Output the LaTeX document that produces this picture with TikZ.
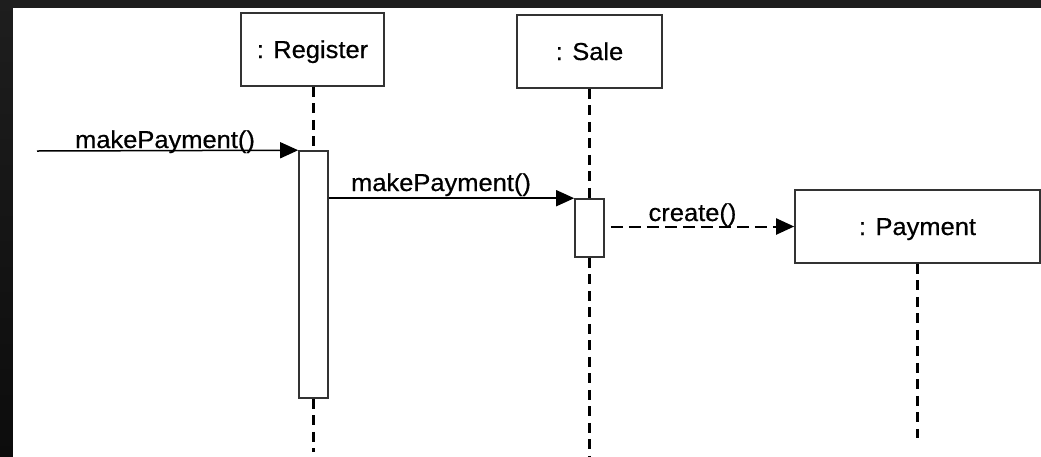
\documentclass[tikz,border=0pt]{standalone}
\usepackage{fontspec}
\setmainfont{Liberation Sans}[FakeStretch=1.04,FakeBold=0.5]
\usetikzlibrary{arrows.meta}
\definecolor{framecol}{HTML}{1E1E1E}
\definecolor{framebot}{HTML}{0C0C0C}
\definecolor{boxline}{HTML}{333333}
\begin{document}
\begin{tikzpicture}[x=1pt,y=-1pt,
  font=\fontsize{24.5}{28}\selectfont,
  objbox/.style={draw=boxline, line width=1.6pt, fill=white, inner sep=0pt,
    text height=17pt, text depth=0pt},
  actbox/.style={draw=boxline, line width=1.6pt, fill=white, inner sep=0pt},
  lifeline/.style={line width=2.6pt, dash pattern=on 10pt off 6.5pt},
  msg/.style={line width=1.5pt, -{Triangle[length=18pt,width=16pt]}},
  createmsg/.style={line width=2pt, dash pattern=on 12pt off 6pt, -{Triangle[length=18pt,width=16pt]}},
  msglabel/.style={anchor=base, inner sep=0pt}]
\useasboundingbox (0,0) rectangle (1041,456);
\shade[top color=framecol, bottom color=framebot] (-2,-2) rectangle (1043,458);
\fill[white] (13,8) rectangle (1045,460);

% objects
\node[objbox, minimum width=143pt, minimum height=73pt] (reg) at (312.5,49.5) {: Register};
\node[objbox, minimum width=145pt, minimum height=73pt] (sale) at (589.5,51.5) {: Sale};
\node[objbox, minimum width=245pt, minimum height=73pt] (pay) at (917.5,226.5) {: Payment};

% activations
\node[actbox, minimum width=29pt, minimum height=247pt] (regact) at (313.5,274.5) {};
\node[actbox, minimum width=29pt, minimum height=58pt] (saleact) at (589.5,228) {};

% lifeline ends
\coordinate (regend) at (313.5,452);
\coordinate (saleend) at (589.5,458);
\coordinate (payend) at (917.5,438);
\coordinate (start) at (37,151);

% lifelines
\draw[lifeline] (reg.south -| regact.north) -- (regact.north);
\draw[lifeline] (regact.south) -- (regend);
\draw[lifeline] (sale.south) -- (saleact.north);
\draw[lifeline] (saleact.south) -- (saleend);
\draw[lifeline] (pay.south) -- (payend);

% messages
\draw[msg] (start) -- (regact.north west);
\draw[msg] (regact.east |- saleact.north west) -- (saleact.north west);
\draw[createmsg] ([xshift=6pt]saleact.east |- pay.west) -- (pay.west);

% labels
\node[msglabel] (l1) at (165,148) {makePayment()};
\node[msglabel] (l2) at (441,191) {makePayment()};
\node[msglabel] (l3) at (692.5,221) {create()};
\end{tikzpicture}
\end{document}
